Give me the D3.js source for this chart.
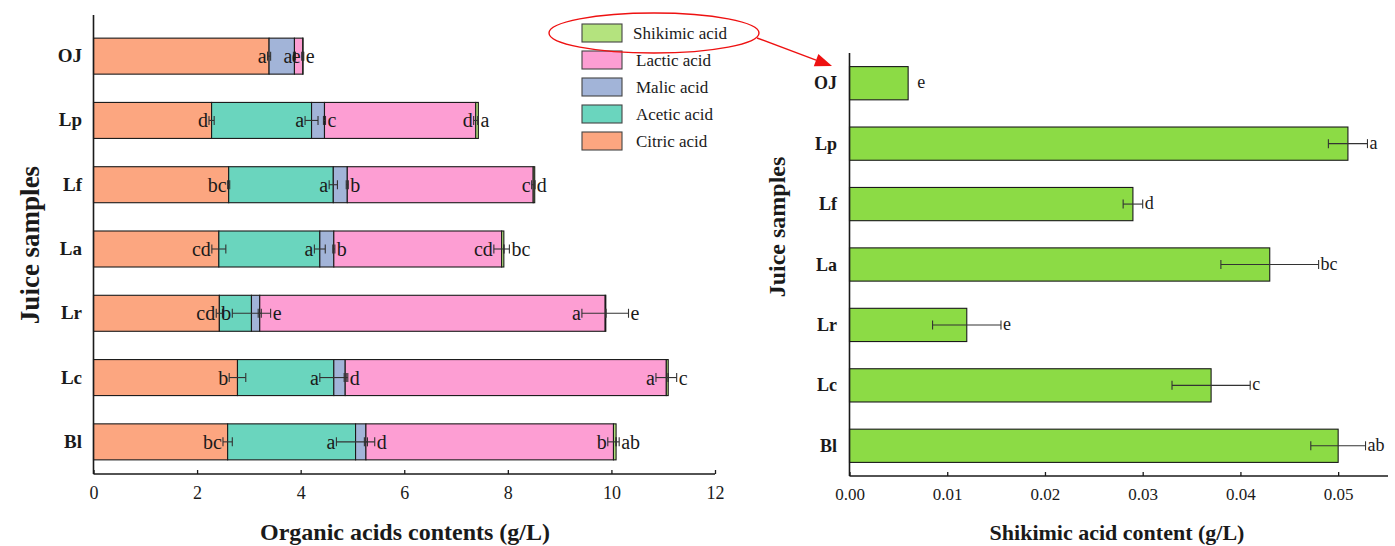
<!DOCTYPE html>
<html>
<head>
<meta charset="utf-8">
<script src="https://cdn.jsdelivr.net/npm/d3@7"></script>
<style>
  html, body { margin: 0; padding: 0; background: #fff; }
  svg text { font-family: "Liberation Serif", "Times New Roman", serif; }
</style>
</head>
<body>
<svg id="chart" width="1395" height="546"></svg>
<script>
// ---- data (g/L) ----
const samples = ["OJ", "Lp", "Lf", "La", "Lr", "Lc", "Bl"];

const citric   = [3.39, 2.28, 2.61, 2.42, 2.43, 2.78, 2.59];
const acetic   = [0.00, 1.93, 2.02, 1.95, 0.62, 1.86, 2.47];
const malic    = [0.49, 0.25, 0.27, 0.27, 0.16, 0.22, 0.20];
const lactic   = [0.16, 2.92, 3.59, 3.24, 6.67, 6.20, 4.78];
const shikimic = [0.006, 0.051, 0.029, 0.043, 0.012, 0.037, 0.050];

const citricSd   = [0.03, 0.05, 0.02, 0.135, 0.06, 0.16, 0.09];
const aceticSd   = [0.00, 0.125, 0.08, 0.105, 0.37, 0.27, 0.37];
const malicSd    = [0.02, 0.02, 0.02, 0.02, 0.03, 0.02, 0.03];
const lacticSd   = [0.02, 0.04, 0.03, 0.15, 0.45, 0.20, 0.11];
const shikimicSd = [0.000, 0.002, 0.001, 0.005, 0.0035, 0.004, 0.0028];

// significance letters
const citricSig   = ["a", "d", "bc", "cd", "cd", "b", "bc"];
const aceticSig   = ["", "a", "a", "a", "b", "a", "a"];
const malicSig    = ["a", "c", "b", "b", "e", "d", "d"];
const lacticSig   = ["e", "d", "c", "cd", "a", "a", "b"];
const shikimicSig = ["e", "a", "d", "bc", "e", "c", "ab"];

const leftTicks  = [0, 2, 4, 6, 8, 10, 12];
const rightTicks = [0, 0.01, 0.02, 0.03, 0.04, 0.05];

const acids = [
  { key: "citric",   name: "Citric acid",   values: citric,   sd: citricSd,   sig: citricSig,   color: "#fca680", side: "left"  },
  { key: "acetic",   name: "Acetic acid",   values: acetic,   sd: aceticSd,   sig: aceticSig,   color: "#6ad5be", side: "left"  },
  { key: "malic",    name: "Malic acid",    values: malic,    sd: malicSd,    sig: malicSig,    color: "#a2b4d8", side: "right" },
  { key: "lactic",   name: "Lactic acid",   values: lactic,   sd: lacticSd,   sig: lacticSig,   color: "#fd9ed3", side: "left"  },
  { key: "shikimic", name: "Shikimic acid", values: shikimic, sd: shikimicSd, sig: shikimicSig, color: "#b4e37e", side: "right" }
];

const svg = d3.select("#chart");
const ink = "#1a1a1a";
const errInk = "#333";

// ---- left panel: stacked organic acids ----
const L = { x0: 93.5, x1: 715, y0: 24, y1: 474, axisTop: 15 };
const xL = d3.scaleLinear().domain([0, 12]).range([L.x0, L.x1]);
const yL = d3.scaleBand().domain(samples).range([L.y0, L.y1]).paddingInner(0.44).paddingOuter(0.22);

const rows = samples.map((s, i) => {
  const r = { sample: s };
  acids.forEach(a => { r[a.key] = a.values[i]; });
  return r;
});
const stacked = d3.stack().keys(acids.map(a => a.key))(rows);

const gL = svg.append("g");

stacked.forEach((layer, li) => {
  const a = acids[li];
  gL.append("g").selectAll("rect").data(layer).enter().append("rect")
    .attr("x", d => xL(d[0]))
    .attr("y", d => yL(d.data.sample))
    .attr("width", d => Math.max(0, xL(d[1]) - xL(d[0])))
    .attr("height", yL.bandwidth())
    .attr("fill", a.color)
    .attr("stroke", ink)
    .attr("stroke-width", 1.1);
});

// error bars and letters at each segment end
const capL = 9;
stacked.forEach((layer, li) => {
  const a = acids[li];
  const g = gL.append("g");
  layer.forEach((d, i) => {
    if (a.values[i] <= 0) return;
    const end = d[1], e = a.sd[i];
    const cy = yL(d.data.sample) + yL.bandwidth() / 2;
    g.append("line").attr("x1", xL(end - e)).attr("x2", xL(end + e))
      .attr("y1", cy).attr("y2", cy).attr("stroke", errInk).attr("stroke-width", 1.1);
    [end - e, end + e].forEach(v => {
      g.append("line").attr("x1", xL(v)).attr("x2", xL(v))
        .attr("y1", cy - capL / 2).attr("y2", cy + capL / 2)
        .attr("stroke", errInk).attr("stroke-width", 1.1);
    });
    if (!a.sig[i]) return;
    let side = a.side;
    // a narrow following segment leaves no room on the right
    const next = acids[li + 1];
    if (side === "right" && next && next.key !== "shikimic" &&
        xL(next.values[i]) - xL(0) < 20) side = "left";
    const t = g.append("text").attr("y", cy + 7).attr("font-size", 20).attr("fill", ink).text(a.sig[i]);
    if (side === "left") {
      t.attr("x", xL(end - e) - 1).attr("text-anchor", "end");
    } else {
      // clear the error bar of the segment just before, too
      let reach = end + e;
      if (li > 0 && acids[li - 1].values[i] > 0) {
        reach = Math.max(reach, stacked[li - 1][i][1] + acids[li - 1].sd[i]);
      }
      t.attr("x", xL(reach) + 2).attr("text-anchor", "start");
    }
  });
});

// axes
gL.append("line").attr("x1", L.x0).attr("x2", L.x0).attr("y1", L.axisTop).attr("y2", L.y1)
  .attr("stroke", ink).attr("stroke-width", 1.6);
const axL = d3.axisBottom(xL).tickValues(leftTicks).tickFormat(d3.format("d")).tickSize(-4).tickPadding(10);
const axLG = gL.append("g").attr("transform", `translate(0,${L.y1})`).call(axL).attr("font-family", null);
axLG.select(".domain").attr("stroke", ink).attr("stroke-width", 1.6).attr("d", `M${L.x0},0H${L.x1}`);
axLG.selectAll(".tick line").attr("stroke", ink).attr("stroke-width", 1.3);
axLG.selectAll(".tick text").attr("font-size", 18).attr("fill", ink).attr("dy", "0.85em");

gL.append("g").selectAll("text").data(samples).enter().append("text")
  .attr("x", 82).attr("y", d => yL(d) + yL.bandwidth() / 2 + 6)
  .attr("text-anchor", "end").attr("font-size", 19).attr("font-weight", "bold").attr("fill", ink)
  .text(d => d);

gL.append("text").attr("transform", "translate(39,245) rotate(-90)")
  .attr("text-anchor", "middle").attr("font-size", 27).attr("font-weight", "bold").attr("fill", ink)
  .text("Juice samples");
gL.append("text").attr("x", 405).attr("y", 540)
  .attr("text-anchor", "middle").attr("font-size", 24).attr("font-weight", "bold").attr("fill", ink)
  .text("Organic acids contents (g/L)");

// legend (top entry first)
const legend = svg.append("g");
acids.slice().reverse().forEach((a, i) => {
  const ly = 24 + i * 27;
  legend.append("rect").attr("x", 582).attr("y", ly).attr("width", 40).attr("height", 18)
    .attr("fill", a.color).attr("stroke", "#444").attr("stroke-width", 1.1);
  legend.append("text").attr("x", i === 0 ? 633 : 636).attr("y", ly + 15)
    .attr("font-size", 17).attr("fill", ink).text(a.name);
});

// ---- right panel: shikimic acid ----
const R = { x0: 849.5, x1: 1388, y0: 53, y1: 476 };
const xR = d3.scaleLinear().domain([0, 0.0551]).range([R.x0, R.x1]);
const yR = d3.scaleBand().domain(samples).range([R.y0, R.y1]).paddingInner(0.45).paddingOuter(0.225);
const gR = svg.append("g");

gR.append("g").selectAll("rect").data(samples).enter().append("rect")
  .attr("x", xR(0))
  .attr("y", d => yR(d))
  .attr("width", (d, i) => xR(shikimic[i]) - xR(0))
  .attr("height", yR.bandwidth())
  .attr("fill", "#8cdb45").attr("stroke", ink).attr("stroke-width", 1.1);

const capR = 9;
samples.forEach((s, i) => {
  const v = shikimic[i], e = shikimicSd[i];
  const cy = yR(s) + yR.bandwidth() / 2;
  if (e > 0) {
    gR.append("line").attr("x1", xR(v - e)).attr("x2", xR(v + e)).attr("y1", cy).attr("y2", cy)
      .attr("stroke", errInk).attr("stroke-width", 1.1);
    [v - e, v + e].forEach(w => gR.append("line").attr("x1", xR(w)).attr("x2", xR(w))
      .attr("y1", cy - capR / 2).attr("y2", cy + capR / 2).attr("stroke", errInk).attr("stroke-width", 1.1));
  }
  gR.append("text").attr("x", xR(v + e) + (e > 0 ? 2 : 9)).attr("y", cy + 5)
    .attr("font-size", 18).attr("fill", ink).text(shikimicSig[i]);
});

gR.append("line").attr("x1", R.x0).attr("x2", R.x0).attr("y1", R.y0).attr("y2", R.y1)
  .attr("stroke", ink).attr("stroke-width", 1.6);
const axR = d3.axisBottom(xR).tickValues(rightTicks).tickFormat(d3.format(".2f")).tickSize(-4).tickPadding(10);
const axRG = gR.append("g").attr("transform", `translate(0,${R.y1})`).call(axR).attr("font-family", null);
axRG.select(".domain").attr("stroke", ink).attr("stroke-width", 1.6).attr("d", `M${R.x0},0H${R.x1}`);
axRG.selectAll(".tick line").attr("stroke", ink).attr("stroke-width", 1.3);
axRG.selectAll(".tick text").attr("font-size", 17).attr("fill", ink).attr("dy", "0.85em");

gR.append("g").selectAll("text").data(samples).enter().append("text")
  .attr("x", 837).attr("y", d => yR(d) + yR.bandwidth() / 2 + 6)
  .attr("text-anchor", "end").attr("font-size", 18).attr("font-weight", "bold").attr("fill", ink)
  .text(d => d);

gR.append("text").attr("transform", "translate(785,227) rotate(-90)")
  .attr("text-anchor", "middle").attr("font-size", 24).attr("font-weight", "bold").attr("fill", ink)
  .text("Juice samples");
gR.append("text").attr("x", 1117).attr("y", 540)
  .attr("text-anchor", "middle").attr("font-size", 22).attr("font-weight", "bold").attr("fill", ink)
  .text("Shikimic acid content (g/L)");

// ---- callout linking the legend entry to the right panel ----
const red = "#ee1111";
svg.append("ellipse").attr("cx", 654).attr("cy", 33).attr("rx", 105).attr("ry", 20)
  .attr("fill", "none").attr("stroke", red).attr("stroke-width", 1.4);
const tail = [757, 38], tip = [832, 66];
const dx = tip[0] - tail[0], dy = tip[1] - tail[1], len = Math.hypot(dx, dy);
const ux = dx / len, uy = dy / len, headLen = 17, headW = 6.5;
const bx = tip[0] - ux * headLen, by = tip[1] - uy * headLen;
svg.append("line").attr("x1", tail[0]).attr("y1", tail[1]).attr("x2", bx).attr("y2", by)
  .attr("stroke", red).attr("stroke-width", 1.4);
svg.append("polygon")
  .attr("points", [[tip[0], tip[1]], [bx - uy * headW, by + ux * headW], [bx + uy * headW, by - ux * headW]]
    .map(p => p.join(",")).join(" "))
  .attr("fill", red);
</script>
</body>
</html>
